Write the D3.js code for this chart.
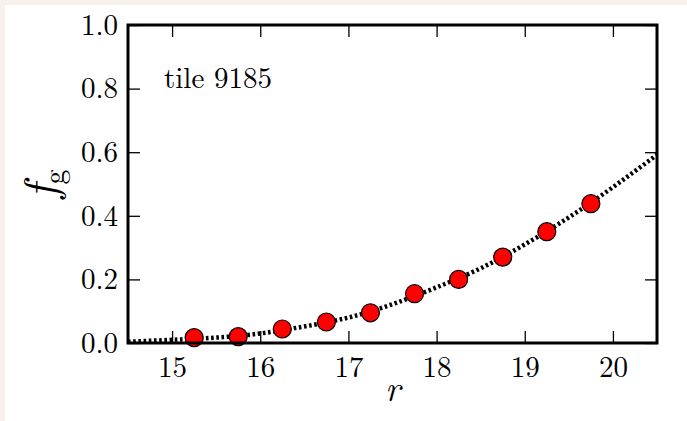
<!DOCTYPE html>
<html>
<head>
<meta charset="utf-8">
<script src="https://cdn.jsdelivr.net/npm/d3@7"></script>
<style>
  body { margin: 0; background: #f8f0ea; }
  #chart { position: absolute; left: 5px; top: 5px; width: 682px; height: 416px; background: #fff; }
  svg { position: absolute; left: -5px; top: -5px; }
  text { font-family: "Latin Modern Roman", "CMU Serif", "Liberation Serif", serif; fill: #000; }
</style>
</head>
<body>
<div id="chart"></div>
<script>
// measured points
let rPoints = [15.25, 15.75, 16.25, 16.75, 17.25, 17.75, 18.25, 18.75, 19.25, 19.75];
let fgPoints = [0.017, 0.020, 0.044, 0.066, 0.095, 0.155, 0.200, 0.270, 0.350, 0.438];

// fitted curve
let rCurve = [14.5, 15, 15.5, 16, 16.5, 17, 17.5, 18, 18.5, 19, 19.5, 20, 20.5];
let fgCurve = [0.004, 0.010, 0.017, 0.030, 0.052, 0.080, 0.122, 0.175, 0.235, 0.310, 0.395, 0.490, 0.592];

let xTicks = [15, 16, 17, 18, 19, 20];
let yTicks = [0, 0.2, 0.4, 0.6, 0.8, 1.0];
let tileLabel = "tile 9185";

let dim = {
    'width': 687,
    'height': 421,
    'left': 128,
    'right': 657,
    'top': 25,
    'bottom': 343
};

let svg = d3.select('#chart').append('svg')
    .attr('width', dim.width)
    .attr('height', dim.height);

let scaleX = d3.scaleLinear()
    .domain([14.5, 20.5])
    .range([dim.left, dim.right]);

let scaleY = d3.scaleLinear()
    .domain([0, 1])
    .range([dim.bottom, dim.top]);

svg.append('clipPath').attr('id', 'plotArea')
    .append('rect')
    .attr('x', dim.left)
    .attr('y', dim.top)
    .attr('width', dim.right - dim.left)
    .attr('height', dim.bottom - dim.top);

// axes, ticks pointing inward
let axisX = svg.append('g')
    .attr('transform', `translate(0,${dim.bottom})`)
    .call(d3.axisBottom(scaleX).tickValues(xTicks).tickSize(-12).tickPadding(13).tickFormat(d3.format('d')));

let axisXTop = svg.append('g')
    .attr('transform', `translate(0,${dim.top})`)
    .call(d3.axisTop(scaleX).tickValues(xTicks).tickSize(-12).tickFormat(''));

let axisY = svg.append('g')
    .attr('transform', `translate(${dim.left},0)`)
    .call(d3.axisLeft(scaleY).tickValues(yTicks).tickSize(-12).tickPadding(10).tickFormat(d3.format('.1f')));

let axisYRight = svg.append('g')
    .attr('transform', `translate(${dim.right},0)`)
    .call(d3.axisRight(scaleY).tickValues(yTicks).tickSize(-12).tickFormat(''));

svg.selectAll('.domain').remove();
svg.selectAll('.tick line').attr('stroke', '#000').attr('stroke-width', 1.3);
svg.selectAll('.tick text').attr('font-size', 29).attr('fill', '#000')
    .attr('font-family', '"Latin Modern Roman", "CMU Serif", "Liberation Serif", serif');

// dotted fit line
let line = d3.line()
    .x((d, i) => scaleX(rCurve[i]))
    .y(d => scaleY(d))
    .curve(d3.curveNatural);

svg.append('path')
    .datum(fgCurve)
    .attr('clip-path', 'url(#plotArea)')
    .attr('d', line)
    .attr('fill', 'none')
    .attr('stroke', '#000')
    .attr('stroke-width', 4.5)
    .attr('stroke-dasharray', '2.6,2.6');

svg.selectAll('circle')
    .data(fgPoints)
    .join('circle')
    .attr('cx', (d, i) => scaleX(rPoints[i]))
    .attr('cy', d => scaleY(d))
    .attr('r', 9)
    .attr('fill', '#ff0000')
    .attr('stroke', '#000')
    .attr('stroke-width', 1.2);

// frame
svg.append('rect')
    .attr('x', dim.left)
    .attr('y', dim.top)
    .attr('width', dim.right - dim.left)
    .attr('height', dim.bottom - dim.top)
    .attr('fill', 'none')
    .attr('stroke', '#000')
    .attr('stroke-width', 3);

svg.append('text')
    .attr('x', 164)
    .attr('y', 88)
    .attr('font-size', 29)
    .text(tileLabel);

svg.append('text')
    .attr('x', (dim.left + dim.right) / 2)
    .attr('y', 401)
    .attr('text-anchor', 'middle')
    .attr('font-size', 36)
    .attr('font-style', 'italic')
    .text('r');

let yLabel = svg.append('text')
    .attr('transform', 'translate(56,184) rotate(-90)')
    .attr('text-anchor', 'middle');
yLabel.append('tspan')
    .attr('font-size', 46)
    .attr('font-style', 'italic')
    .text('f');
yLabel.append('tspan')
    .attr('font-size', 30)
    .attr('dy', 8)
    .text('g');
</script>
</body>
</html>
